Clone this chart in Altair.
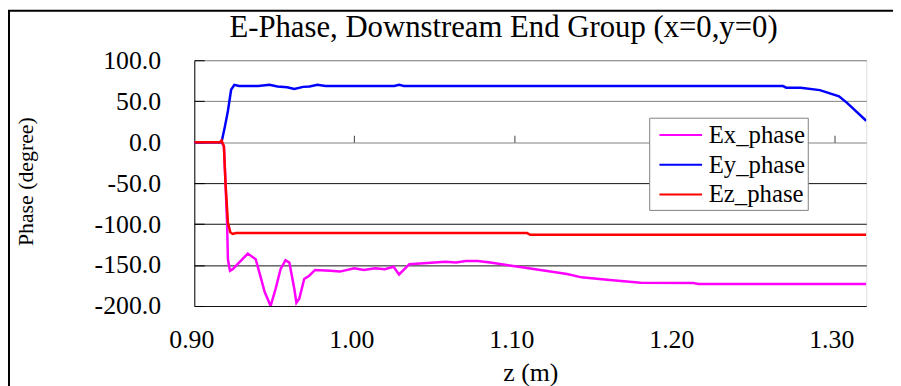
import altair as alt
import pandas as pd

series_names = ["Ex_phase", "Ey_phase", "Ez_phase"]
series_colors = ["#FF00FF", "#0000FF", "#FF0000"]

ex_z = [0.900, 0.917, 0.9185, 0.9195, 0.9205, 0.921, 0.9223, 0.924, 0.9334, 0.9384,
        0.9415, 0.944, 0.9477, 0.9508, 0.9539, 0.957, 0.9594, 0.9625, 0.9638, 0.9656,
        0.9687, 0.9718, 0.9755, 0.985, 0.991, 1.000, 1.006, 1.013, 1.019, 1.0245,
        1.028, 1.0344, 1.057, 1.0635, 1.0697, 1.0771, 1.085, 1.109, 1.133, 1.142,
        1.158, 1.179, 1.212, 1.215, 1.320]
ex_v = [0, 0, -5, -50, -100, -143, -157, -155, -136, -143,
        -165, -183, -200, -179, -155, -144, -147, -179, -196, -191,
        -167, -163, -156, -157, -158, -154, -156, -154, -155, -152,
        -161.5, -149, -146, -147, -145, -145, -147, -154, -161, -165,
        -168, -171.7, -172, -173, -173]

ey_z = [0.900, 0.917, 0.919, 0.921, 0.923, 0.925, 0.928, 0.940, 0.947, 0.952,
        0.958, 0.9625, 0.968, 0.972, 0.977, 0.982, 1.025, 1.028, 1.031, 1.268,
        1.270, 1.279, 1.291, 1.303, 1.308, 1.320]
ey_v = [0, 0, 18, 38, 64, 70, 68.5, 68.5, 70, 68,
        67, 65, 67.5, 68, 70, 68.5, 68.5, 70, 68.5, 68.5,
        66.5, 66.5, 63.5, 56, 48, 26]

ez_z = [0.900, 0.916, 0.917, 0.9185, 0.9195, 0.921, 0.9225, 0.924, 0.926, 1.108,
        1.110, 1.320]
ez_v = [0, 0, 2, -5, -50, -98, -110, -112, -111, -111,
        -113, -113]

y_ticks = [-200, -150, -100, -50, 0, 50, 100]
x_label_ticks = [0.90, 1.00, 1.10, 1.20, 1.30]
x_inner_ticks = [1.00, 1.10, 1.20, 1.30]

rows = []
for name, zs, vs in zip(series_names, [ex_z, ey_z, ez_z], [ex_v, ey_v, ez_v]):
    for i, (z, v) in enumerate(zip(zs, vs)):
        rows.append({"z": z, "phase": v, "series": name, "order": i})
df = pd.DataFrame(rows)

W, H = 678, 248
SERIF = "Liberation Serif"
MINUS_FIX = "replace(format(datum.value, '{}'), '\u2212', '-')"

xscale = alt.Scale(domain=[0.90, 1.32], nice=False, zero=False)
yscale = alt.Scale(domain=[-200, 100], nice=False, zero=False)

lines = alt.Chart(df).mark_line(strokeWidth=2.5, clip=True).encode(
    x=alt.X("z:Q", scale=xscale,
            axis=alt.Axis(values=x_label_ticks, labelExpr=MINUS_FIX.format(".2f"), title="z (m)",
                          orient="bottom", ticks=False, domain=False, grid=False,
                          labelFont=SERIF, labelFontSize=26, labelColor="black",
                          labelPadding=21, labelOffset=-3, labelFlush=False,
                          titleFont=SERIF, titleFontSize=26, titleFontWeight="normal",
                          titleColor="black", titleY=75, titleBaseline="alphabetic")),
    y=alt.Y("phase:Q", scale=yscale,
            axis=alt.Axis(values=y_ticks, labelExpr=MINUS_FIX.format(".1f"), title="Phase (degree)",
                          ticks=False, domain=True, domainColor="black", domainWidth=1,
                          grid=True,
                          gridColor=alt.condition("datum.value >= 0", alt.value("#808080"), alt.value("#101010")),
                          gridWidth=1,
                          labelFont=SERIF, labelFontSize=26, labelColor="black",
                          labelPadding=34, labelFlush=False,
                          titleFont=SERIF, titleFontSize=22, titleFontWeight="normal",
                          titleColor="black", titleX=-170, titleY=122,
                          titleAngle=270, titleAlign="center", titleBaseline="middle")),
    color=alt.Color("series:N",
                    scale=alt.Scale(domain=series_names, range=series_colors),
                    legend=alt.Legend(title=None, orient="none", legendX=459, legendY=58,
                                      symbolType="M-0.5,0L2.5,0", symbolSize=822, symbolStrokeWidth=2,
                                      labelFont=SERIF, labelFontSize=25, labelColor="black",
                                      labelOffset=27, padding=2, rowPadding=1,
                                      strokeColor="#808080", fillColor="white")),
    order="order:Q",
)

# invisible carrier layer for the inner tick marks (x ticks on the zero line, y ticks inside the left edge)
inner_ticks = alt.Chart(df).mark_point(opacity=0).encode(
    x=alt.X("z:Q", scale=xscale,
            axis=alt.Axis(values=x_inner_ticks, orient="top", offset=-82.7, labels=False,
                          domain=False, grid=False, ticks=True, tickSize=7,
                          tickColor="#404040", tickWidth=1, title=None)),
    y=alt.Y("phase:Q", scale=yscale,
            axis=alt.Axis(values=y_ticks, orient="right", offset=-W, labels=False,
                          domain=False, grid=False, ticks=True, tickSize=10,
                          tickColor="black", tickWidth=1, title=None)),
)

border = alt.Chart(pd.DataFrame({"k": [0]})).mark_rect(
    fill=None, stroke="black", strokeWidth=2
).encode(
    x=alt.value(-187), x2=alt.value(W + 60), y=alt.value(-50), y2=alt.value(H + 120)
)

chart = alt.layer(border, lines, inner_ticks).resolve_axis(x="independent", y="independent").properties(
    width=W, height=H,
    title=alt.TitleParams("E-Phase, Downstream End Group (x=0,y=0)", font=SERIF, fontSize=31,
                          fontWeight="normal", color="black", anchor="middle", frame="group",
                          dx=-27, dy=59, offset=0, baseline="alphabetic"),
    autosize=alt.AutoSizeParams(type="none"),
    padding={"left": 188, "top": 51, "right": 27, "bottom": 79},
).configure_view(stroke="#808080", strokeWidth=1).configure(background="white")

chart.save("out.html", embed_options={"renderer": "svg", "actions": False})
